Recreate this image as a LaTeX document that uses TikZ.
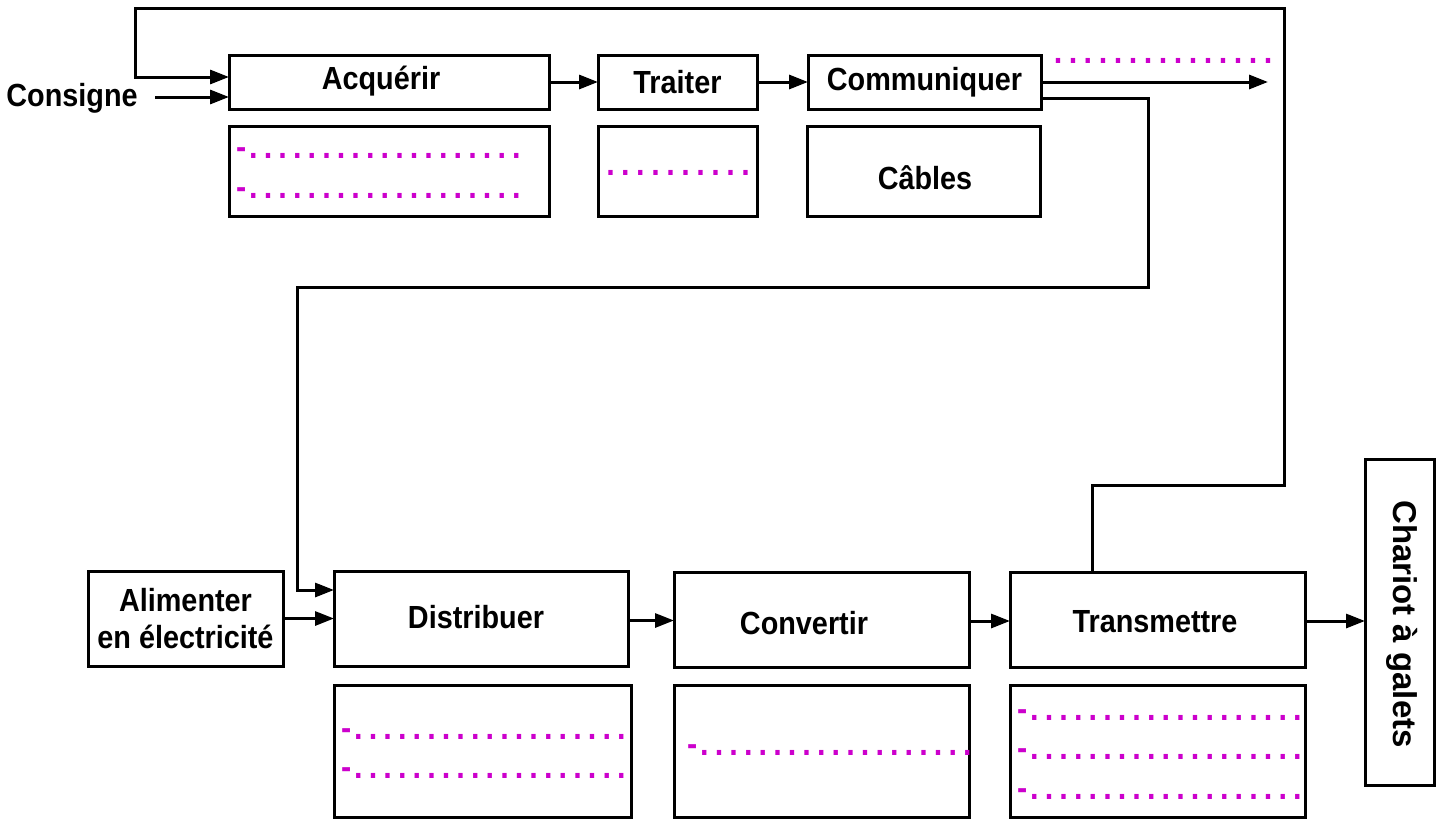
\documentclass[tikz,border=0pt]{standalone}
\usepackage{fontspec}
\setmainfont{Liberation Sans}[FakeStretch=0.9]
\newfontfamily\widefont{Liberation Sans}
\usetikzlibrary{arrows.meta}
\definecolor{mag}{RGB}{204,0,204}
\newcommand\pdots[2]{\foreach\k in {1,...,#1}{\makebox[#2][c]{.}}}
\begin{document}
\begin{tikzpicture}[x=1pt,y=-1pt,
  box/.style={draw, line width=3pt, inner sep=0pt, outer sep=0pt,
    font=\fontsize{32}{37}\selectfont\bfseries, align=center},
  lbl/.style={inner sep=0pt, font=\fontsize{32}{37}\selectfont\bfseries},
  arr/.style={line width=3pt, -{Triangle[length=19pt,width=14pt]}},
  dotrow/.style={text=mag, font=\fontsize{34}{36}\selectfont\bfseries,
    anchor=base west, inner sep=0pt, outer sep=0pt}]
\fill[white] (0,0) rectangle (1441,819);
\useasboundingbox (0,0) rectangle (1441,819);

% top chain
\node[lbl] (cons) at (72,98) {Consigne};
\node[box, minimum width=320pt, minimum height=54pt] (acq) at (389,82) {};
\node[lbl] (acqt) at (381,81) {Acquérir};
\node[box, minimum width=320pt, minimum height=90pt] (acqS) at (389,171) {};
\node[box, minimum width=159pt, minimum height=54pt] (trt) at (677.5,82) {Traiter};
\node[box, minimum width=159pt, minimum height=90pt] (trtS) at (677.5,171) {};
\node[box, minimum width=233pt, minimum height=54pt] (com) at (924.5,82) {Communiquer};
\node[box, minimum width=233pt, minimum height=90pt] (cab) at (923.5,171) {};
\node[lbl] (cabt) at (925,178) {Câbles};
\coordinate (out) at (1268,82);
\coordinate (cin) at ([xshift=-74pt,yshift=-15pt]acq.west);

% bottom chain
\node[box, minimum width=195pt, minimum height=95pt] (ali) at (185.5,618.5) {Alimenter\\en électricité};
\node[box, minimum width=294pt, minimum height=95pt] (dist) at (481,618.5) {};
\node[lbl] (distt) at (476,617) {Distribuer};
\node[box, minimum width=297pt, minimum height=132pt] (distS) at (482.5,751) {};
\node[box, minimum width=295pt, minimum height=95pt] (conv) at (821.5,619.5) {};
\node[lbl] (convt) at (804,623) {Convertir};
\node[box, minimum width=295pt, minimum height=132pt] (convS) at (821.5,751) {};
\node[box, minimum width=295pt, minimum height=95pt] (trans) at (1157.5,619.5) {};
\node[lbl] (transt) at (1155,622) {Transmettre};
\node[box, minimum width=295pt, minimum height=132pt] (transS) at (1157.5,751) {};
\node[box, minimum width=69pt, minimum height=326pt] (char) at (1399.5,622) {};
\node[inner sep=0pt, font=\fontsize{33}{36}\selectfont\widefont\bfseries] (chart) at (1402,624) {\rotatebox{-90}{Chariot à galets}};

% magenta placeholder rows
\node[dotrow] (d1) at (236,158) {-\pdots{19}{14.6pt}};
\node[dotrow] (d2) at (236,198) {-\pdots{19}{14.6pt}};
\node[dotrow] (d3) at (603,175) {\pdots{10}{15pt}};
\node[dotrow] (d4) at (1050.5,63) {\pdots{15}{15pt}};
\node[dotrow] (d5) at (341,739) {-\pdots{19}{14.6pt}};
\node[dotrow] (d6) at (341,778) {-\pdots{19}{14.6pt}};
\node[dotrow] (d7) at (687,755) {-\pdots{19}{14.6pt}};
\node[dotrow] (d8) at (1017,720) {-\pdots{19}{14.6pt}};
\node[dotrow] (d9) at (1017,759) {-\pdots{19}{14.6pt}};
\node[dotrow] (d10) at (1017,799) {-\pdots{19}{14.6pt}};

% connectors
\draw[arr] (cin) -- ([yshift=-15pt]acq.west);
\draw[arr] (acq.east) -- (trt.west);
\draw[arr] (trt.east) -- (com.west);
\draw[arr] (com.east) -- (out);
\draw[arr] ([xshift=82pt]trans.north west) |- (1284,485) |- (135,8) |- ([yshift=5pt]acq.west);
\draw[arr] ([yshift=-16pt]com.east) -| (1148,287) -| (297,590) -- ([yshift=28.5pt]dist.west);
\draw[arr] (ali.east) -- (ali.east -| dist.west);
\draw[arr] ([yshift=-2pt]dist.east) -- ([yshift=-2pt]dist.east -| conv.west);
\draw[arr] ([yshift=-1.5pt]conv.east) -- ([yshift=-1.5pt]conv.east -| trans.west);
\draw[arr] ([yshift=-1.5pt]trans.east) -- ([yshift=-1.5pt]trans.east -| char.west);
\end{tikzpicture}
\end{document}
